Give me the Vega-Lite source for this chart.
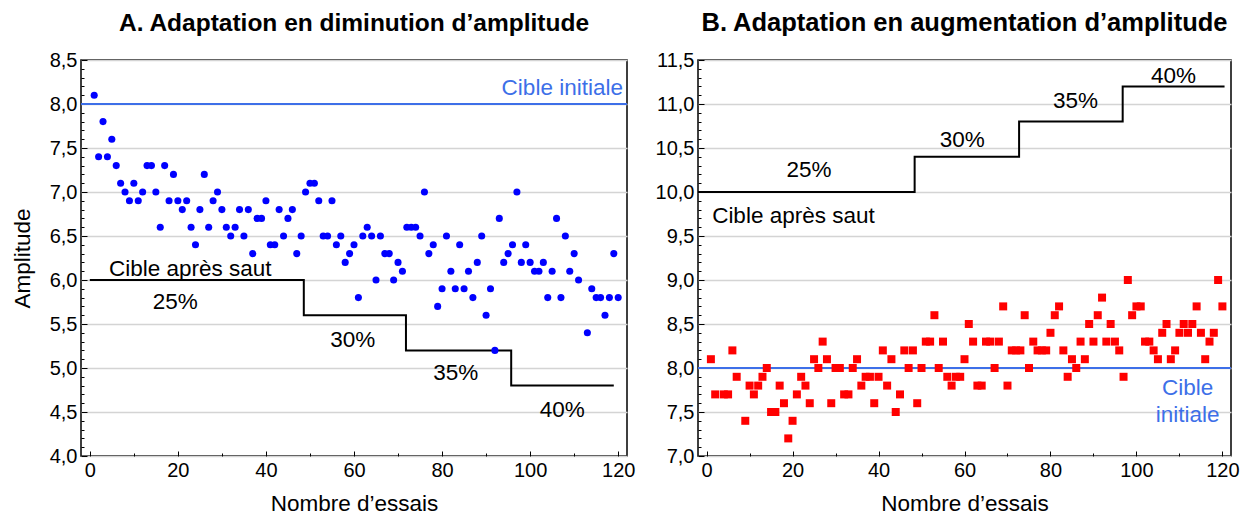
{
  "$schema": "https://vega.github.io/schema/vega-lite/v6.json",
  "padding": {"left": 10, "top": 9, "right": 4, "bottom": 2},
  "spacing": 18,
  "config": {
    "font": "Liberation Sans",
    "view": {"stroke": "black", "strokeWidth": 1.5},
    "axis": {"labelFont": "Liberation Sans", "labelFontSize": 20, "labelColor": "black", "titleFont": "Liberation Sans", "titleFontSize": 22.5, "titleFontWeight": "normal", "titleColor": "black", "domain": false, "tickColor": "black", "gridColor": "#d4d4d4", "gridWidth": 1.5, "labelOverlap": false},
    "title": {"font": "Liberation Sans", "fontSize": 24, "fontWeight": "bold", "color": "black", "offset": 14, "anchor": "middle"}
  },
  "datasets": {
    "ptsA": [
      {"essai":1,"amplitude":8.1},{"essai":2,"amplitude":7.4},{"essai":3,"amplitude":7.8},{"essai":4,"amplitude":7.4},{"essai":5,"amplitude":7.6},
      {"essai":6,"amplitude":7.3},{"essai":7,"amplitude":7.1},{"essai":8,"amplitude":7.0},{"essai":9,"amplitude":6.9},{"essai":10,"amplitude":7.1},
      {"essai":11,"amplitude":6.9},{"essai":12,"amplitude":7.0},{"essai":13,"amplitude":7.3},{"essai":14,"amplitude":7.3},{"essai":15,"amplitude":7.0},
      {"essai":16,"amplitude":6.6},{"essai":17,"amplitude":7.3},{"essai":18,"amplitude":6.9},{"essai":19,"amplitude":7.2},{"essai":20,"amplitude":6.9},
      {"essai":21,"amplitude":6.8},{"essai":22,"amplitude":6.9},{"essai":23,"amplitude":6.6},{"essai":24,"amplitude":6.4},{"essai":25,"amplitude":6.8},
      {"essai":26,"amplitude":7.2},{"essai":27,"amplitude":6.6},{"essai":28,"amplitude":6.9},{"essai":29,"amplitude":7.0},{"essai":30,"amplitude":6.8},
      {"essai":31,"amplitude":6.6},{"essai":32,"amplitude":6.5},{"essai":33,"amplitude":6.6},{"essai":34,"amplitude":6.8},{"essai":35,"amplitude":6.5},
      {"essai":36,"amplitude":6.8},{"essai":37,"amplitude":6.3},{"essai":38,"amplitude":6.7},{"essai":39,"amplitude":6.7},{"essai":40,"amplitude":6.9},
      {"essai":41,"amplitude":6.4},{"essai":42,"amplitude":6.4},{"essai":43,"amplitude":6.8},{"essai":44,"amplitude":6.5},{"essai":45,"amplitude":6.7},
      {"essai":46,"amplitude":6.8},{"essai":47,"amplitude":6.3},{"essai":48,"amplitude":6.5},{"essai":49,"amplitude":7.0},{"essai":50,"amplitude":7.1},
      {"essai":51,"amplitude":7.1},{"essai":52,"amplitude":6.9},{"essai":53,"amplitude":6.5},{"essai":54,"amplitude":6.5},{"essai":55,"amplitude":6.9},
      {"essai":56,"amplitude":6.4},{"essai":57,"amplitude":6.5},{"essai":58,"amplitude":6.2},{"essai":59,"amplitude":6.3},{"essai":60,"amplitude":6.4},
      {"essai":61,"amplitude":5.8},{"essai":62,"amplitude":6.5},{"essai":63,"amplitude":6.6},{"essai":64,"amplitude":6.5},{"essai":65,"amplitude":6.0},
      {"essai":66,"amplitude":6.5},{"essai":67,"amplitude":6.3},{"essai":68,"amplitude":6.3},{"essai":69,"amplitude":6.0},{"essai":70,"amplitude":6.2},
      {"essai":71,"amplitude":6.1},{"essai":72,"amplitude":6.6},{"essai":73,"amplitude":6.6},{"essai":74,"amplitude":6.6},{"essai":75,"amplitude":6.5},
      {"essai":76,"amplitude":7.0},{"essai":77,"amplitude":6.3},{"essai":78,"amplitude":6.4},{"essai":79,"amplitude":5.7},{"essai":80,"amplitude":5.9},
      {"essai":81,"amplitude":6.5},{"essai":82,"amplitude":6.1},{"essai":83,"amplitude":5.9},{"essai":84,"amplitude":6.4},{"essai":85,"amplitude":5.9},
      {"essai":86,"amplitude":6.1},{"essai":87,"amplitude":5.8},{"essai":88,"amplitude":6.2},{"essai":89,"amplitude":6.5},{"essai":90,"amplitude":5.6},
      {"essai":91,"amplitude":5.9},{"essai":92,"amplitude":5.2},{"essai":93,"amplitude":6.7},{"essai":94,"amplitude":6.2},{"essai":95,"amplitude":6.3},
      {"essai":96,"amplitude":6.4},{"essai":97,"amplitude":7.0},{"essai":98,"amplitude":6.2},{"essai":99,"amplitude":6.4},{"essai":100,"amplitude":6.2},
      {"essai":101,"amplitude":6.1},{"essai":102,"amplitude":6.1},{"essai":103,"amplitude":6.2},{"essai":104,"amplitude":5.8},{"essai":105,"amplitude":6.1},
      {"essai":106,"amplitude":6.7},{"essai":107,"amplitude":5.8},{"essai":108,"amplitude":6.5},{"essai":109,"amplitude":6.1},{"essai":110,"amplitude":6.3},
      {"essai":111,"amplitude":6.0},{"essai":113,"amplitude":5.4},{"essai":114,"amplitude":5.9},{"essai":115,"amplitude":5.8},
      {"essai":116,"amplitude":5.8},{"essai":117,"amplitude":5.6},{"essai":118,"amplitude":5.8},{"essai":119,"amplitude":6.3},{"essai":120,"amplitude":5.8}
    ],
    "ptsB": [
      {"essai":1,"amplitude":8.1},{"essai":2,"amplitude":7.7},{"essai":4,"amplitude":7.7},{"essai":5,"amplitude":7.7},
      {"essai":6,"amplitude":8.2},{"essai":7,"amplitude":7.9},{"essai":9,"amplitude":7.4},{"essai":10,"amplitude":7.8},
      {"essai":11,"amplitude":7.7},{"essai":12,"amplitude":7.8},{"essai":13,"amplitude":7.9},{"essai":14,"amplitude":8.0},{"essai":15,"amplitude":7.5},
      {"essai":16,"amplitude":7.5},{"essai":17,"amplitude":7.8},{"essai":18,"amplitude":7.6},{"essai":19,"amplitude":7.2},{"essai":20,"amplitude":7.4},
      {"essai":21,"amplitude":7.7},{"essai":22,"amplitude":7.9},{"essai":23,"amplitude":7.8},{"essai":24,"amplitude":7.6},{"essai":25,"amplitude":8.1},
      {"essai":26,"amplitude":8.0},{"essai":27,"amplitude":8.3},{"essai":28,"amplitude":8.1},{"essai":29,"amplitude":7.6},{"essai":30,"amplitude":8.0},
      {"essai":31,"amplitude":8.0},{"essai":32,"amplitude":7.7},{"essai":33,"amplitude":7.7},{"essai":34,"amplitude":8.0},{"essai":35,"amplitude":8.1},
      {"essai":36,"amplitude":7.8},{"essai":37,"amplitude":7.9},{"essai":38,"amplitude":7.9},{"essai":39,"amplitude":7.6},{"essai":40,"amplitude":7.9},
      {"essai":41,"amplitude":8.2},{"essai":42,"amplitude":7.8},{"essai":43,"amplitude":8.1},{"essai":44,"amplitude":7.5},{"essai":45,"amplitude":7.7},
      {"essai":46,"amplitude":8.2},{"essai":47,"amplitude":8.0},{"essai":48,"amplitude":8.2},{"essai":49,"amplitude":7.6},{"essai":50,"amplitude":8.0},
      {"essai":51,"amplitude":8.3},{"essai":52,"amplitude":8.3},{"essai":53,"amplitude":8.6},{"essai":54,"amplitude":8.0},{"essai":55,"amplitude":8.3},
      {"essai":56,"amplitude":7.9},{"essai":57,"amplitude":7.8},{"essai":58,"amplitude":7.9},{"essai":59,"amplitude":7.9},{"essai":60,"amplitude":8.1},
      {"essai":61,"amplitude":8.5},{"essai":62,"amplitude":8.3},{"essai":63,"amplitude":7.8},{"essai":64,"amplitude":7.8},{"essai":65,"amplitude":8.3},
      {"essai":66,"amplitude":8.3},{"essai":67,"amplitude":8.0},{"essai":68,"amplitude":8.3},{"essai":69,"amplitude":8.7},{"essai":70,"amplitude":7.8},
      {"essai":71,"amplitude":8.2},{"essai":72,"amplitude":8.2},{"essai":73,"amplitude":8.2},{"essai":74,"amplitude":8.6},{"essai":75,"amplitude":8.0},
      {"essai":76,"amplitude":8.3},{"essai":77,"amplitude":8.2},{"essai":78,"amplitude":8.2},{"essai":79,"amplitude":8.2},{"essai":80,"amplitude":8.4},
      {"essai":81,"amplitude":8.6},{"essai":82,"amplitude":8.7},{"essai":83,"amplitude":8.2},{"essai":84,"amplitude":7.9},{"essai":85,"amplitude":8.1},
      {"essai":86,"amplitude":8.0},{"essai":87,"amplitude":8.3},{"essai":88,"amplitude":8.1},{"essai":89,"amplitude":8.5},{"essai":90,"amplitude":8.3},
      {"essai":91,"amplitude":8.6},{"essai":92,"amplitude":8.8},{"essai":93,"amplitude":8.3},{"essai":94,"amplitude":8.5},{"essai":95,"amplitude":8.3},
      {"essai":96,"amplitude":8.2},{"essai":97,"amplitude":7.9},{"essai":98,"amplitude":9.0},{"essai":99,"amplitude":8.6},{"essai":100,"amplitude":8.7},
      {"essai":101,"amplitude":8.7},{"essai":102,"amplitude":8.3},{"essai":103,"amplitude":8.3},{"essai":104,"amplitude":8.2},{"essai":105,"amplitude":8.1},
      {"essai":106,"amplitude":8.4},{"essai":107,"amplitude":8.5},{"essai":108,"amplitude":8.1},{"essai":109,"amplitude":8.2},{"essai":110,"amplitude":8.4},
      {"essai":111,"amplitude":8.5},{"essai":112,"amplitude":8.4},{"essai":113,"amplitude":8.5},{"essai":114,"amplitude":8.7},{"essai":115,"amplitude":8.4},
      {"essai":116,"amplitude":8.1},{"essai":117,"amplitude":8.3},{"essai":118,"amplitude":8.4},{"essai":119,"amplitude":9.0},{"essai":120,"amplitude":8.7}
    ],
    "stepA": [
      {"essai":0,"amplitude":6.0},{"essai":48.6,"amplitude":5.6},{"essai":71.8,"amplitude":5.2},{"essai":95.7,"amplitude":4.8},{"essai":119,"amplitude":4.8}
    ],
    "stepB": [
      {"essai":-2,"amplitude":10.0},{"essai":48.4,"amplitude":10.4},{"essai":72.7,"amplitude":10.8},{"essai":96.8,"amplitude":11.2},{"essai":120.5,"amplitude":11.2}
    ],
    "labelsA": [
      {"essai":22.8,"amplitude":6.13,"label":"Cible après saut"},
      {"essai":19.4,"amplitude":5.75,"label":"25%"},
      {"essai":59.7,"amplitude":5.32,"label":"30%"},
      {"essai":83.1,"amplitude":4.94,"label":"35%"},
      {"essai":107.3,"amplitude":4.52,"label":"40%"}
    ],
    "cibleA": [
      {"essai":107.3,"amplitude":8.18,"label":"Cible initiale"}
    ],
    "labelsB": [
      {"essai":20.2,"amplitude":9.73,"label":"Cible après saut"},
      {"essai":23.8,"amplitude":10.25,"label":"25%"},
      {"essai":59.5,"amplitude":10.59,"label":"30%"},
      {"essai":85.8,"amplitude":11.03,"label":"35%"},
      {"essai":108.6,"amplitude":11.32,"label":"40%"}
    ],
    "cibleB": [
      {"essai":111.9,"amplitude":7.77,"label":"Cible"},
      {"essai":111.9,"amplitude":7.47,"label":"initiale"}
    ]
  },
  "hconcat": [
    {
      "width": 546, "height": 396,
      "title": {"text": "A. Adaptation en diminution d’amplitude", "fontSize": 24.5},
      "layer": [
        {
          "data": {"values": [{"amplitude": 8}]},
          "mark": {"type": "rule", "color": "#3d6fe8", "strokeWidth": 2},
          "encoding": {
            "y": {"field": "amplitude", "type": "quantitative", "scale": {"domain": [4, 8.5], "nice": false, "zero": false}, "title": "Amplitude",
              "axis": {"values": [4.0,4.1,4.2,4.3,4.4,4.5,4.6,4.7,4.8,4.9,5.0,5.1,5.2,5.3,5.4,5.5,5.6,5.7,5.8,5.9,6.0,6.1,6.2,6.3,6.4,6.5,6.6,6.7,6.8,6.9,7.0,7.1,7.2,7.3,7.4,7.5,7.6,7.7,7.8,7.9,8.0,8.1,8.2,8.3,8.4,8.5],
                "tickCount": 200,
                "labelExpr": "abs(datum.value*2-round(datum.value*2))<0.001 ? replace(format(datum.value,'.1f'),'.',',') : ''",
                "gridOpacity": {"condition": {"test": "abs(datum.value*2-round(datum.value*2))<0.001", "value": 1}, "value": 0},
                "tickSize": {"condition": {"test": "abs(datum.value*2-round(datum.value*2))<0.001", "value": -6}, "value": -3},
                "labelPadding": 10, "titlePadding": 15}}
          }
        },
        {
          "data": {"name": "stepA"},
          "mark": {"type": "line", "interpolate": "step-after", "color": "black", "strokeWidth": 2},
          "encoding": {
            "x": {"field": "essai", "type": "quantitative", "scale": {"domain": [-2, 122], "nice": false, "zero": false}, "title": "Nombre d’essais",
              "axis": {"values": [0,10,20,30,40,50,60,70,80,90,100,110,120], "tickCount": 100, "labelExpr": "datum.value % 20 == 0 ? datum.label : ''", "grid": false,
                "tickSize": {"condition": {"test": "datum.value % 20 == 0", "value": -5}, "value": -3}, "labelPadding": 9, "titlePadding": 10}},
            "y": {"field": "amplitude", "type": "quantitative"}
          }
        },
        {
          "data": {"name": "ptsA"},
          "mark": {"type": "point", "shape": "circle", "filled": true, "color": "#0000ff", "opacity": 1, "size": 50},
          "encoding": {
            "x": {"field": "essai", "type": "quantitative"},
            "y": {"field": "amplitude", "type": "quantitative"}
          }
        },
        {
          "data": {"name": "labelsA"},
          "mark": {"type": "text", "fontSize": 22.5, "color": "black", "font": "Liberation Sans"},
          "encoding": {
            "x": {"field": "essai", "type": "quantitative"},
            "y": {"field": "amplitude", "type": "quantitative"},
            "text": {"field": "label"}
          }
        },
        {
          "data": {"name": "cibleA"},
          "mark": {"type": "text", "fontSize": 22.5, "color": "#3d6fe8", "font": "Liberation Sans"},
          "encoding": {
            "x": {"field": "essai", "type": "quantitative"},
            "y": {"field": "amplitude", "type": "quantitative"},
            "text": {"field": "label"}
          }
        }
      ]
    },
    {
      "width": 533, "height": 396,
      "title": {"text": "B. Adaptation en augmentation d’amplitude", "fontSize": 25.5},
      "layer": [
        {
          "data": {"values": [{"amplitude": 8}]},
          "mark": {"type": "rule", "color": "#3d6fe8", "strokeWidth": 2},
          "encoding": {
            "y": {"field": "amplitude", "type": "quantitative", "scale": {"domain": [7, 11.5], "nice": false, "zero": false}, "title": null,
              "axis": {"values": [7.0,7.1,7.2,7.3,7.4,7.5,7.6,7.7,7.8,7.9,8.0,8.1,8.2,8.3,8.4,8.5,8.6,8.7,8.8,8.9,9.0,9.1,9.2,9.3,9.4,9.5,9.6,9.7,9.8,9.9,10.0,10.1,10.2,10.3,10.4,10.5,10.6,10.7,10.8,10.9,11.0,11.1,11.2,11.3,11.4,11.5],
                "tickCount": 200,
                "labelExpr": "abs(datum.value*2-round(datum.value*2))<0.001 ? replace(format(datum.value,'.1f'),'.',',') : ''",
                "gridOpacity": {"condition": {"test": "abs(datum.value*2-round(datum.value*2))<0.001", "value": 1}, "value": 0},
                "tickSize": {"condition": {"test": "abs(datum.value*2-round(datum.value*2))<0.001", "value": -6}, "value": -3},
                "labelPadding": 10}}
          }
        },
        {
          "data": {"name": "stepB"},
          "mark": {"type": "line", "interpolate": "step-after", "color": "black", "strokeWidth": 2},
          "encoding": {
            "x": {"field": "essai", "type": "quantitative", "scale": {"domain": [-2, 122], "nice": false, "zero": false}, "title": "Nombre d’essais",
              "axis": {"values": [0,10,20,30,40,50,60,70,80,90,100,110,120], "tickCount": 100, "labelExpr": "datum.value % 20 == 0 ? datum.label : ''", "grid": false,
                "tickSize": {"condition": {"test": "datum.value % 20 == 0", "value": -5}, "value": -3}, "labelPadding": 9, "titlePadding": 10}},
            "y": {"field": "amplitude", "type": "quantitative"}
          }
        },
        {
          "data": {"name": "ptsB"},
          "mark": {"type": "point", "shape": "square", "filled": true, "color": "#ff0000", "opacity": 1, "size": 64},
          "encoding": {
            "x": {"field": "essai", "type": "quantitative"},
            "y": {"field": "amplitude", "type": "quantitative"}
          }
        },
        {
          "data": {"name": "labelsB"},
          "mark": {"type": "text", "fontSize": 22.5, "color": "black", "font": "Liberation Sans"},
          "encoding": {
            "x": {"field": "essai", "type": "quantitative"},
            "y": {"field": "amplitude", "type": "quantitative"},
            "text": {"field": "label"}
          }
        },
        {
          "data": {"name": "cibleB"},
          "mark": {"type": "text", "fontSize": 22.5, "color": "#3d6fe8", "font": "Liberation Sans"},
          "encoding": {
            "x": {"field": "essai", "type": "quantitative"},
            "y": {"field": "amplitude", "type": "quantitative"},
            "text": {"field": "label"}
          }
        }
      ]
    }
  ]
}
